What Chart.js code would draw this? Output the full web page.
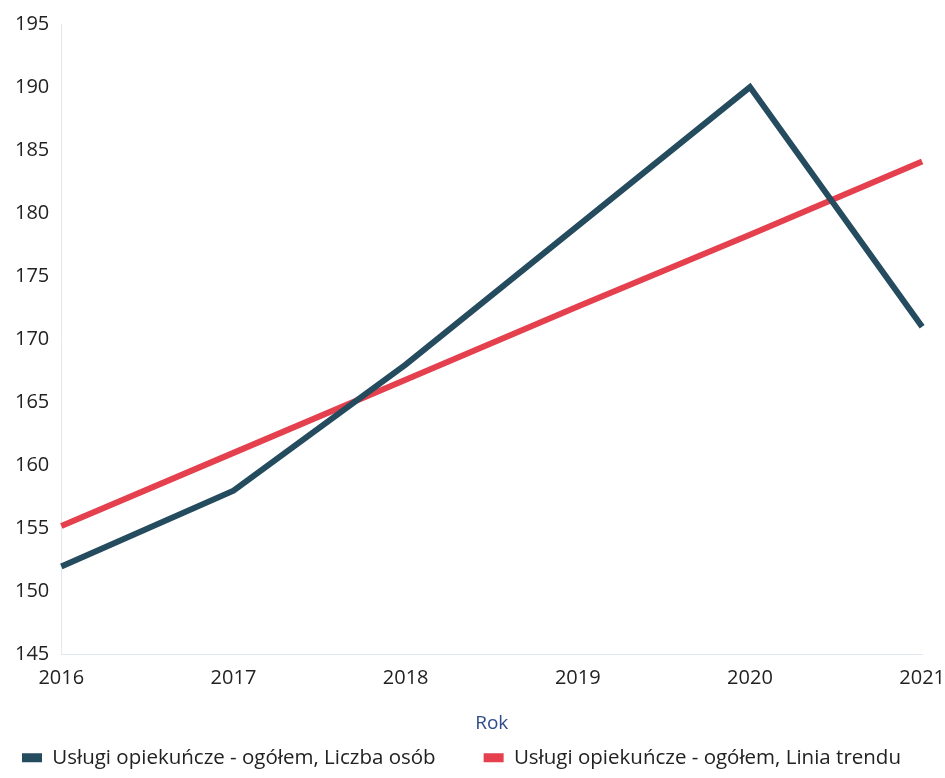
<!DOCTYPE html>
<html>
<head>
<meta charset="utf-8">
<script src="https://cdn.jsdelivr.net/npm/chart.js@4/dist/chart.umd.min.js"></script>
<style>
html,body{margin:0;padding:0;background:#fff;}
#wrap{width:945px;height:778px;position:relative;}
</style>
</head>
<body>
<div id="wrap"><canvas id="c" width="945" height="778"></canvas></div>
<script>
const years = ["2016","2017","2018","2019","2020","2021"];
const liczbaOsob = [152, 158, 168, 179, 190, 171];
const liniaTrendu = [155.2, 161.0, 166.8, 172.6, 178.3, 184.1];
const seriesNames = ["Usługi opiekuńcze - ogółem, Liczba osób", "Usługi opiekuńcze - ogółem, Linia trendu"];
const xTitle = "Rok";

Chart.defaults.font.family = "'Open Sans', 'Noto Sans', sans-serif";
new Chart(document.getElementById('c'), {
  type: 'line',
  data: {
    labels: years,
    datasets: [
      {label: seriesNames[0], data: liczbaOsob, borderColor: '#244b5e', backgroundColor: '#244b5e', borderWidth: 6, pointRadius: 0, tension: 0},
      {label: seriesNames[1], data: liniaTrendu, borderColor: '#e5404e', backgroundColor: '#e5404e', borderWidth: 6, pointRadius: 0, tension: 0}
    ]
  },
  options: {
    responsive: false,
    animation: false,
    layout: {padding: {left: 15, right: 0, top: 24, bottom: 0}},
    plugins: {
      legend: {
        position: 'bottom',
        align: 'start',
        labels: {
          boxWidth: 20, boxHeight: 9, padding: 7, color: '#222', font: {size: 20.5},
          generateLabels(chart) {
            const items = Chart.defaults.plugins.legend.labels.generateLabels(chart);
            items.forEach((it, i) => {
              it.lineWidth = 0;
              if (i < items.length - 1) it.text = it.text + '\u2003\u2003';
            });
            return items;
          }
        }
      },
      tooltip: {enabled: false}
    },
    scales: {
      x: {
        offset: false,
        grid: {display: false, drawTicks: true, tickLength: 12},
        border: {display: true, color: '#e3e8ef', width: 1},
        ticks: {color: '#222', font: {size: 20}, maxRotation: 0, padding: 0},
        title: {display: true, text: xTitle, color: '#2f4b8c', font: {size: 19}, padding: {top: 21, bottom: 6}}
      },
      y: {
        min: 145, max: 195,
        grid: {display: false, drawTicks: false},
        border: {display: true, color: '#e3e8ef', width: 1},
        ticks: {stepSize: 5, color: '#222', font: {size: 20}, padding: 6, crossAlign: 'far'}
      }
    }
  }
});
</script>
</body>
</html>
